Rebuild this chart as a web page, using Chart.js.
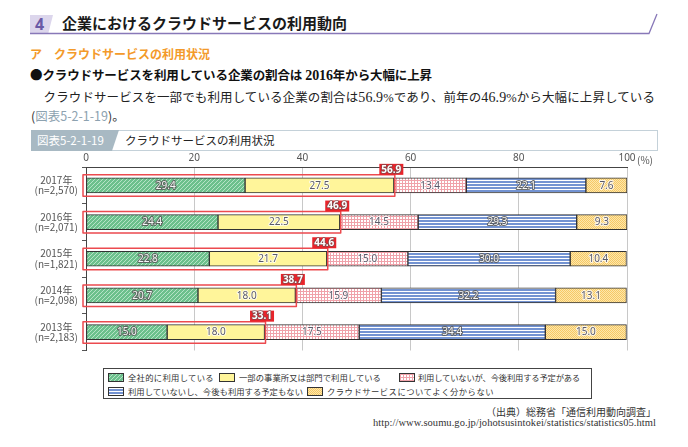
<!DOCTYPE html>
<html><head><meta charset="utf-8">
<script src="https://cdn.jsdelivr.net/npm/chart.js@4.4.1/dist/chart.umd.min.js"></script>
<style>
body{margin:0;width:688px;height:447px;background:#fff;position:relative;overflow:hidden;font-family:"Noto Sans CJK JP",sans-serif;color:#222;}
.abs{position:absolute;white-space:nowrap;line-height:1;}
#numbox{left:30px;top:15px;width:23px;height:18px;background:#dcd6ec;clip-path:polygon(0 0,100% 0,80% 100%,0 100%);}
#num{left:35px;top:16px;font-size:16px;font-weight:bold;color:#6a5aa6;font-family:"Noto Sans",sans-serif;}
#title{left:62px;top:15px;font-size:15px;font-weight:bold;color:#1a1a1a;}
#sub{left:30px;top:48px;font-size:12px;font-weight:bold;color:#f39a2a;}
#bullet{left:30px;top:69px;font-size:12.5px;font-weight:bold;font-family:"Liberation Serif","Noto Sans CJK JP",serif;color:#111;}
#para{left:31px;top:90.5px;font-size:12.5px;font-family:"Liberation Serif","Noto Sans CJK JP",serif;color:#222;}
.num{font-size:14px;}
.dot{font-family:"Noto Sans CJK JP",sans-serif;}
#ref{left:31px;top:109.5px;font-size:12.5px;color:#333;}
#ref span{color:#8da2b0;}
#figbox{left:31px;top:130px;width:625px;height:19px;border:1px solid #c4d1d9;}
#figlab{left:31px;top:130px;width:88px;height:21px;background:#a8b9c3;clip-path:polygon(0 0,100% 0,92% 100%,0 100%);}
#figlabt{left:37px;top:135px;font-size:11.5px;color:#fff;}
#figtitle{left:125px;top:135px;font-size:11.5px;color:#222;}
#pct{left:637px;top:155px;font-size:10px;color:#555;}
#chart{position:absolute;left:0;top:150px;}
#legend{left:103px;top:368px;width:487px;height:29px;border:1px solid #444;}
.sw{position:absolute;width:14px;height:7px;border:1px solid #333;}
.lt{position:absolute;font-size:8.3px;color:#333;white-space:nowrap;line-height:1;}
#src{right:32px;top:407px;font-size:10px;color:#333;}
#url{right:32px;top:418px;font-size:10.5px;font-family:"Liberation Serif",serif;color:#333;}
</style></head><body>
<div id="numbox" class="abs"></div>
<div id="num" class="abs">4</div>
<div id="title" class="abs">企業におけるクラウドサービスの利用動向</div>
<svg class="abs" style="left:0;top:0" width="688" height="60"><polyline points="30,33.5 649,33.5 657,14" fill="none" stroke="#8878b8" stroke-width="1.3"/></svg>
<div id="sub" class="abs">ア　クラウドサービスの利用状況</div>
<div id="bullet" class="abs"><span class="dot">●</span>クラウドサービスを利用している企業の割合は <span class="num">2016</span>年から大幅に上昇</div>
<div id="para" class="abs">　クラウドサービスを一部でも利用している企業の割合は<span class="num">56.9</span>%であり、前年の<span class="num">46.9</span>%から大幅に上昇している</div>
<div id="ref" class="abs">(<span>図表5-2-1-19</span>)。</div>
<div id="figbox" class="abs"></div>
<div id="figlab" class="abs"></div>
<div id="figlabt" class="abs">図表5-2-1-19</div>
<div id="figtitle" class="abs">クラウドサービスの利用状況</div>
<canvas id="chart" width="688" height="215"></canvas>
<div id="pct" class="abs">(%)</div>
<div id="legend" class="abs"></div>
<div id="src" class="abs">（出典）総務省「通信利用動向調査」</div>
<div id="url" class="abs">http://www.soumu.go.jp/johotsusintokei/statistics/statistics05.html</div>
<script>
// ---- data ----
const categories = [["2017年","(n=2,570)"],["2016年","(n=2,071)"],["2015年","(n=1,821)"],["2014年","(n=2,098)"],["2013年","(n=2,183)"]];
const seriesNames = ["全社的に利用している","一部の事業所又は部門で利用している","利用していないが、今後利用する予定がある","利用していないし、今後も利用する予定もない","クラウドサービスについてよく分からない"];
const fullUse = [29.4, 24.4, 22.8, 20.7, 15.0];
const partUse = [27.5, 22.5, 21.7, 18.0, 18.0];
const planUse = [13.4, 14.5, 15.0, 15.9, 17.5];
const noPlan = [22.1, 29.3, 30.0, 32.2, 34.4];
const unknown = [7.6, 9.3, 10.4, 13.1, 15.0];
const usingTotalLabels = ["56.9","46.9","44.6","38.7","33.1"];
const xTicks = [0, 20, 40, 60, 80, 100];

// ---- patterns ----
function tile(w,h,draw){const c=document.createElement('canvas');c.width=w;c.height=h;const g=c.getContext('2d');draw(g);return c;}
const tiles = [
  tile(4,4,g=>{g.fillStyle='#6cc08c';g.fillRect(0,0,4,4);g.fillStyle='#b5e3c6';for(let i=0;i<4;i++){g.fillRect(i,3-i,1,1);} }),
  tile(2,2,g=>{g.fillStyle='#fff59a';g.fillRect(0,0,2,2);}),
  tile(3,3,g=>{g.fillStyle='#ffffff';g.fillRect(0,0,3,3);g.fillStyle='#f0a2aa';g.fillRect(0,0,3,1);g.fillRect(0,0,1,3);}),
  tile(3,3,g=>{g.fillStyle='#ffffff';g.fillRect(0,0,3,3);g.fillStyle='#7393d2';g.fillRect(0,1,3,2);}),
  tile(2,2,g=>{g.fillStyle='#fde7aa';g.fillRect(0,0,2,2);g.fillStyle='#f6c866';g.fillRect(0,0,1,1);g.fillRect(1,1,1,1);})
];
const ctx = document.getElementById('chart').getContext('2d');
const pats = tiles.map(t=>ctx.createPattern(t,'repeat'));
const seriesData = [fullUse, partUse, planUse, noPlan, unknown];
const lightText = [true,false,false,true,false];

// legend: [swatchLeft, rowCenter, textLeft, textWidth] relative to legend box
const legendPos = [[4,8,24,86],[115,8,135,142],[295,8,314,162],[4,22,24,175],[203,22,223,167]];
const leg = document.getElementById('legend');
const legTexts = [];
seriesNames.forEach((n,i)=>{
  const c=document.createElement('canvas');c.width=14;c.height=7;c.className='sw';
  c.style.left=legendPos[i][0]+'px';c.style.top=(legendPos[i][1]-4)+'px';
  const g=c.getContext('2d');g.fillStyle=g.createPattern(tiles[i],'repeat');g.fillRect(0,0,14,7);
  leg.appendChild(c);
  const t=document.createElement('div');t.className='lt';t.textContent=n;
  t.style.left=legendPos[i][2]+'px';t.style.top=(legendPos[i][1]-4.5)+'px';
  leg.appendChild(t);legTexts.push(t);
});

const valuePlugin = {
  id:'vals',
  afterDatasetsDraw(chart){
    const c=chart.ctx;
    c.save();
    c.font='10px "Noto Sans", sans-serif';
    c.textAlign='center';c.textBaseline='middle';c.lineJoin='round';
    chart.data.datasets.forEach((ds,di)=>{
      chart.getDatasetMeta(di).data.forEach((bar,i)=>{
        const x=(bar.x+bar.base)/2, y=bar.y+0.5;
        const txt=ds.data[i].toFixed(1);
        if(lightText[di]){c.lineWidth=2;c.strokeStyle='rgba(85,85,85,0.85)';c.strokeText(txt,x,y);c.fillStyle='#f6f6f6';c.fillText(txt,x,y);}
        else {c.lineWidth=2;c.strokeStyle='rgba(255,255,255,0.8)';c.strokeText(txt,x,y);c.fillStyle='#5a5a6a';c.fillText(txt,x,y);}
      });
    });
    const xs=chart.scales.x, ys=chart.scales.y;
    categories.forEach((cat,i)=>{
      const x0=xs.getPixelForValue(0)-3, x1=xs.getPixelForValue(fullUse[i]+partUse[i])+1;
      const yc=ys.getPixelForValue(i);
      const top=yc-10.5, bot=yc+11;
      c.lineWidth=1.5;c.strokeStyle='#ec4a4f';
      c.strokeRect(x0,top,x1-x0,bot-top);
      const lw=24, lh=11, lx=x1-3.5-lw/2;
      c.fillStyle='#e8242b';c.fillRect(lx,top-lh,lw,lh);
      c.font='bold 10px "Noto Sans", sans-serif';
      c.lineWidth=1.6;c.strokeStyle='rgba(90,90,90,0.7)';
      c.strokeText(usingTotalLabels[i],lx+lw/2,top-lh/2+0.5);
      c.fillStyle='#fff';c.fillText(usingTotalLabels[i],lx+lw/2,top-lh/2+0.5);
      c.font='10px "Noto Sans", sans-serif';
    });
    c.restore();
  }
};

new Chart(ctx,{
  type:'bar',
  data:{labels:categories,datasets:seriesData.map((d,i)=>({label:seriesNames[i],data:d,backgroundColor:pats[i],borderColor:'#333',borderWidth:1,borderSkipped:false,barThickness:15}))},
  options:{
    indexAxis:'y',responsive:false,animation:false,
    layout:{padding:{left:20,right:61,top:0,bottom:8}},
    plugins:{legend:{display:false},tooltip:{enabled:false}},
    scales:{
      x:{type:'linear',position:'top',stacked:true,min:0,max:100,
        afterBuildTicks(s){s.ticks=xTicks.map(v=>({value:v}));},
        afterFit(s){s.height=17;},
        ticks:{color:'#555',font:{size:10,family:'"Noto Sans", sans-serif'},padding:3},
        grid:{color:c=>c.tick&&c.tick.value===0?'rgba(0,0,0,0)':'#c8c8c8',drawTicks:false,tickLength:0,lineWidth:1},
        border:{display:true,color:'#444',width:1}},
      y:{type:'category',stacked:true,
        afterFit(s){s.width=66;},
        ticks:{color:'#555',font:{size:10,family:'"Noto Sans CJK JP", sans-serif',lineHeight:1.05},crossAlign:'center',padding:4},
        grid:{offset:true,drawOnChartArea:false,tickLength:4,color:'#555'},
        border:{display:true,color:'#444',width:1}}
    }
  },
  plugins:[valuePlugin]
});

// fit text widths
function fitEl(el,target){el.style.letterSpacing='0px';const r=el.getBoundingClientRect();const n=[...el.textContent].length;el.style.letterSpacing=((target-r.width)/n)+'px';}
function fit(id,target){fitEl(document.getElementById(id),target);}
fit('bullet',402);fit('para',624);fit('url',283);
legTexts.forEach((t,i)=>fitEl(t,legendPos[i][3]));
</script>
</body></html>
